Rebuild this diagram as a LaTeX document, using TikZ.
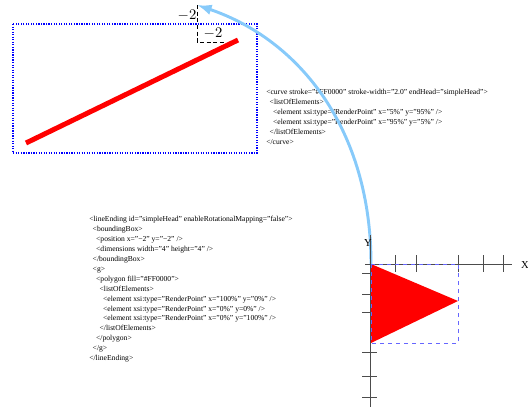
\documentclass[tikz,border=0pt]{standalone}
\usepackage{fontspec}
\setmainfont{Liberation Serif}
\usetikzlibrary{arrows.meta}
\definecolor{arcblue}{RGB}{135,202,250}
\newcommand{\tabin}[1]{\hspace*{#1\dimexpr 2.6pt\relax}}

\begin{document}
\begin{tikzpicture}[
  x=0.75pt, y=-0.75pt,
  xml/.style={anchor=north west, inner sep=0pt, align=left, font=\fontsize{5.7}{7.45}\selectfont},
  axlbl/.style={inner sep=0pt, font=\fontsize{8}{9}\selectfont},
  lim/.style={inner sep=0pt, font=\fontsize{10.5}{12}\selectfont},
  axline/.style={draw=black!70, line width=0.6pt},
  curvebox/.style={draw=blue, densely dotted, line width=0.9pt},
  headbox/.style={draw=blue!60, dashed, line width=0.5pt},
  curvearrow/.style={draw=arcblue, line width=2.2pt, -{Latex[length=11pt, width=8pt]}}]
\useasboundingbox (0,0) rectangle (528,407);
% --- rendered curve ---
\draw[curvebox] (13,24) rectangle (257,153);
\coordinate (p1) at (26,143);
\coordinate (p2) at (238,40);
\draw[red, line width=3.75pt] (p1) -- (p2);
\coordinate (bbcorner) at (197,5);
\draw[black, densely dashed, line width=0.6pt] (bbcorner) -- (197,42) -- (224,42);
\node[lim] (mx) at (187,15) {$-2$};
\node[lim] (my) at (213,33) {$-2$};
% --- curve xml ---
\node[xml] (curvexml) at (266,89) {%
<curve stroke="\#FF0000" stroke-width="2.0" endHead="simpleHead">\\
\tabin1<listOfElements>\\
\tabin2<element xsi:type="RenderPoint" x="5\%" y="95\%" />\\
\tabin2<element xsi:type="RenderPoint" x="95\%" y="5\%" />\\
\tabin1</listOfElements>\\
</curve>};
% --- line ending xml ---
\node[xml] (endingxml) at (89,216) {%
<lineEnding id="simpleHead" enableRotationalMapping="false">\\
\tabin1<boundingBox>\\
\tabin2<position x="−2" y="−2" />\\
\tabin2<dimensions width="4" height="4" />\\
\tabin1</boundingBox>\\
\tabin1<g>\\
\tabin2<polygon fill="\#FF0000">\\
\tabin3<listOfElements>\\
\tabin4<element xsi:type="RenderPoint" x="100\%" y="0\%" />\\
\tabin4<element xsi:type="RenderPoint" x="0\%" y=0\%" />\\
\tabin4<element xsi:type="RenderPoint" x="0\%" y="100\%" />\\
\tabin3</listOfElements>\\
\tabin2</polygon>\\
\tabin1</g>\\
</lineEnding>};
% --- line ending frame ---
\coordinate (origin) at (371,264);
\draw[curvearrow] (origin) .. controls (371,130) and (300,40) .. (bbcorner);
\draw[axline] (365,264) -- (512,264);
\draw[axline] (370,235) -- (370,407);
\foreach \tx in {395,416,458,483,503}
  \draw[axline] (\tx,255) -- (\tx,272);
\foreach \ty in {273,294,312,352,376,397}
  \draw[axline] (362,\ty) -- (377,\ty);
\fill[red] (origin) -- (458,301) -- (371,343) -- cycle;
\draw[headbox] (origin) rectangle (458,343);
\node[axlbl] (ylbl) at (368,243) {Y};
\node[axlbl] (xlbl) at (525,265) {X};
\end{tikzpicture}
\end{document}
